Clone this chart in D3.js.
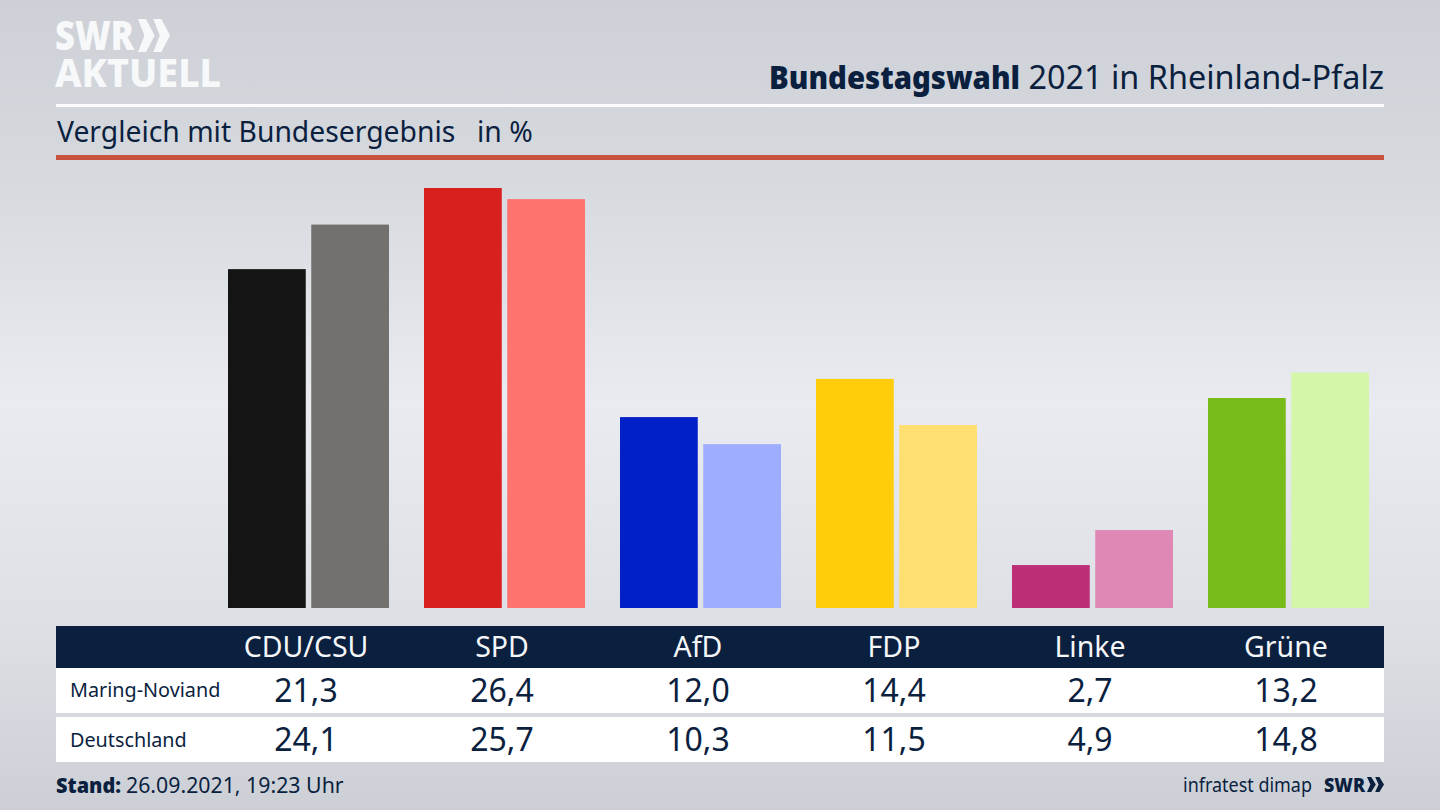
<!DOCTYPE html>
<html>
<head>
<meta charset="utf-8">
<script src="https://cdn.jsdelivr.net/npm/d3@7"></script>
<style>
html, body { margin: 0; padding: 0; background: #d5d8de; }
svg { display: block; }
text { font-family: 'Noto Sans', sans-serif; fill: #0b1f3f; }
</style>
</head>
<body>
<div id="chart"></div>
<script>
//data to display
const parties = ['CDU/CSU', 'SPD', 'AfD', 'FDP', 'Linke', 'Grüne'];
const regions = ['Maring-Noviand', 'Deutschland'];
const localValues = [21.3, 26.4, 12.0, 14.4, 2.7, 13.2];
const nationalValues = [24.1, 25.7, 10.3, 11.5, 4.9, 14.8];

//Colors
const localColors = ['#141414', '#d8201e', '#0220c8', '#ffcd0a', '#bc2f78', '#78bc1c'];
const nationalColors = ['#73716e', '#ff736f', '#9eadff', '#fedf70', '#df88b6', '#d3f6a9'];
const navy = '#0b1f3f';
const redLine = '#c8533f';
const logoWhite = '#f7f8f9';

//Measures
const width = 1440;
const height = 810;
const left = 56;
const right = 1384;

const svg = d3.select('#chart').append('svg')
    .attr('width', width)
    .attr('height', height);

const x = d3.scaleBand().domain(parties).range([228, 1369]).paddingInner(35 / 196);
const xInner = d3.scaleBand().domain([0, 1]).range([0, x.bandwidth()]).paddingInner(5.5 / 83.5);
const xLabel = d3.scalePoint().domain(parties).range([306, 1286]);
const y = d3.scaleLinear().domain([0, 26.4]).range([608, 188]);

drawBackground();
drawHeader();
drawBars();
drawTable();
drawFooter();

function drawBackground() {
    const grad = svg.append('defs').append('linearGradient')
        .attr('id', 'bg').attr('x1', 0).attr('x2', 0).attr('y1', 0).attr('y2', 1);
    grad.append('stop').attr('offset', '0%').attr('stop-color', '#cdd0d6');
    grad.append('stop').attr('offset', '22%').attr('stop-color', '#d6d9de');
    grad.append('stop').attr('offset', '50%').attr('stop-color', '#e9ebf0');
    grad.append('stop').attr('offset', '78%').attr('stop-color', '#dcdfe4');
    grad.append('stop').attr('offset', '100%').attr('stop-color', '#ccd0d6');
    svg.append('rect').attr('width', width).attr('height', height).attr('fill', 'url(#bg)');
}

//SWR logo arrows, w and h are the size of the whole pair
function chevrons(g, color, w, h) {
    [0, 0.48].forEach(o => {
        g.append('path')
            .attr('d', `M${o * w} 0 L${(o + 0.25) * w} 0 L${(o + 0.52) * w} ${0.5 * h} L${(o + 0.25) * w} ${h} L${o * w} ${h} L${(o + 0.2) * w} ${0.5 * h} Z`)
            .attr('fill', color);
    });
}

function drawHeader() {
    svg.append('text').text('SWR')
        .attr('x', 55).attr('y', 50)
        .attr('font-size', 40).attr('font-weight', 900)
        .attr('textLength', 79).attr('lengthAdjust', 'spacingAndGlyphs')
        .style('fill', logoWhite);
    chevrons(svg.append('g').attr('transform', 'translate(138,19)'), logoWhite, 32, 33);
    svg.append('text').text('AKTUELL')
        .attr('x', 55).attr('y', 87)
        .attr('font-size', 40).attr('font-weight', 800)
        .attr('textLength', 166).attr('lengthAdjust', 'spacingAndGlyphs')
        .style('fill', logoWhite);

    svg.append('text').text('Bundestagswahl')
        .attr('x', 769).attr('y', 89)
        .attr('font-size', 32.5).attr('font-weight', 900)
        .attr('textLength', 251).attr('lengthAdjust', 'spacingAndGlyphs');
    svg.append('text').text('2021 in Rheinland-Pfalz')
        .attr('x', right).attr('y', 89)
        .attr('text-anchor', 'end')
        .attr('font-size', 32.4);

    svg.append('rect').attr('x', left).attr('y', 104).attr('width', right - left).attr('height', 3).attr('fill', '#fbfbfc');

    svg.append('text').text('Vergleich mit Bundesergebnis')
        .attr('x', 57).attr('y', 142).attr('font-size', 28.3);
    svg.append('text').text('in %')
        .attr('x', 477).attr('y', 142).attr('font-size', 28.3);

    svg.append('rect').attr('x', left).attr('y', 155).attr('width', right - left).attr('height', 5).attr('fill', redLine);
}

function drawBars() {
    [localValues, nationalValues].forEach((values, s) => {
        svg.append('g').selectAll('rect')
            .data(parties)
            .join('rect')
            .attr('x', d => x(d) + xInner(s))
            .attr('y', (d, i) => y(values[i]))
            .attr('width', xInner.bandwidth())
            .attr('height', (d, i) => y(0) - y(values[i]))
            .attr('fill', (d, i) => (s === 0 ? localColors : nationalColors)[i]);
    });
}

function drawTable() {
    svg.append('rect').attr('x', left).attr('y', 626).attr('width', right - left).attr('height', 42).attr('fill', navy);
    svg.append('g').selectAll('text')
        .data(parties)
        .join('text')
        .text(d => d)
        .attr('x', d => xLabel(d))
        .attr('y', 657)
        .attr('text-anchor', 'middle')
        .attr('font-size', 28.5)
        .style('fill', '#f4f6f8');

    const rowTop = [668, 717];
    const rowHeight = [45, 45];
    const baseline = [702, 751];
    const labelBaseline = [697, 747];
    [localValues, nationalValues].forEach((values, r) => {
        svg.append('rect').attr('x', left).attr('y', rowTop[r]).attr('width', right - left).attr('height', rowHeight[r]).attr('fill', '#ffffff');
        svg.append('text').text(regions[r])
            .attr('x', 70).attr('y', labelBaseline[r]).attr('font-size', 19.8);
        svg.append('g').selectAll('text')
            .data(parties)
            .join('text')
            .text((d, i) => values[i].toFixed(1).replace('.', ','))
            .attr('x', d => xLabel(d))
            .attr('y', baseline[r])
            .attr('text-anchor', 'middle')
            .attr('font-size', 32);
    });
}

function drawFooter() {
    svg.append('text').text('Stand:')
        .attr('x', left).attr('y', 793)
        .attr('font-size', 21.5).attr('font-weight', 900)
        .attr('textLength', 65).attr('lengthAdjust', 'spacingAndGlyphs');
    svg.append('text').text('26.09.2021, 19:23 Uhr')
        .attr('x', 126).attr('y', 793).attr('font-size', 21.3);

    svg.append('text').text('infratest dimap')
        .attr('x', 1183).attr('y', 792)
        .attr('font-size', 20)
        .attr('textLength', 129).attr('lengthAdjust', 'spacingAndGlyphs');
    svg.append('text').text('SWR')
        .attr('x', 1324).attr('y', 792)
        .attr('font-size', 20).attr('font-weight', 900)
        .attr('textLength', 41).attr('lengthAdjust', 'spacingAndGlyphs');
    chevrons(svg.append('g').attr('transform', 'translate(1367,777)'), navy, 17, 15);
}
</script>
</body>
</html>
